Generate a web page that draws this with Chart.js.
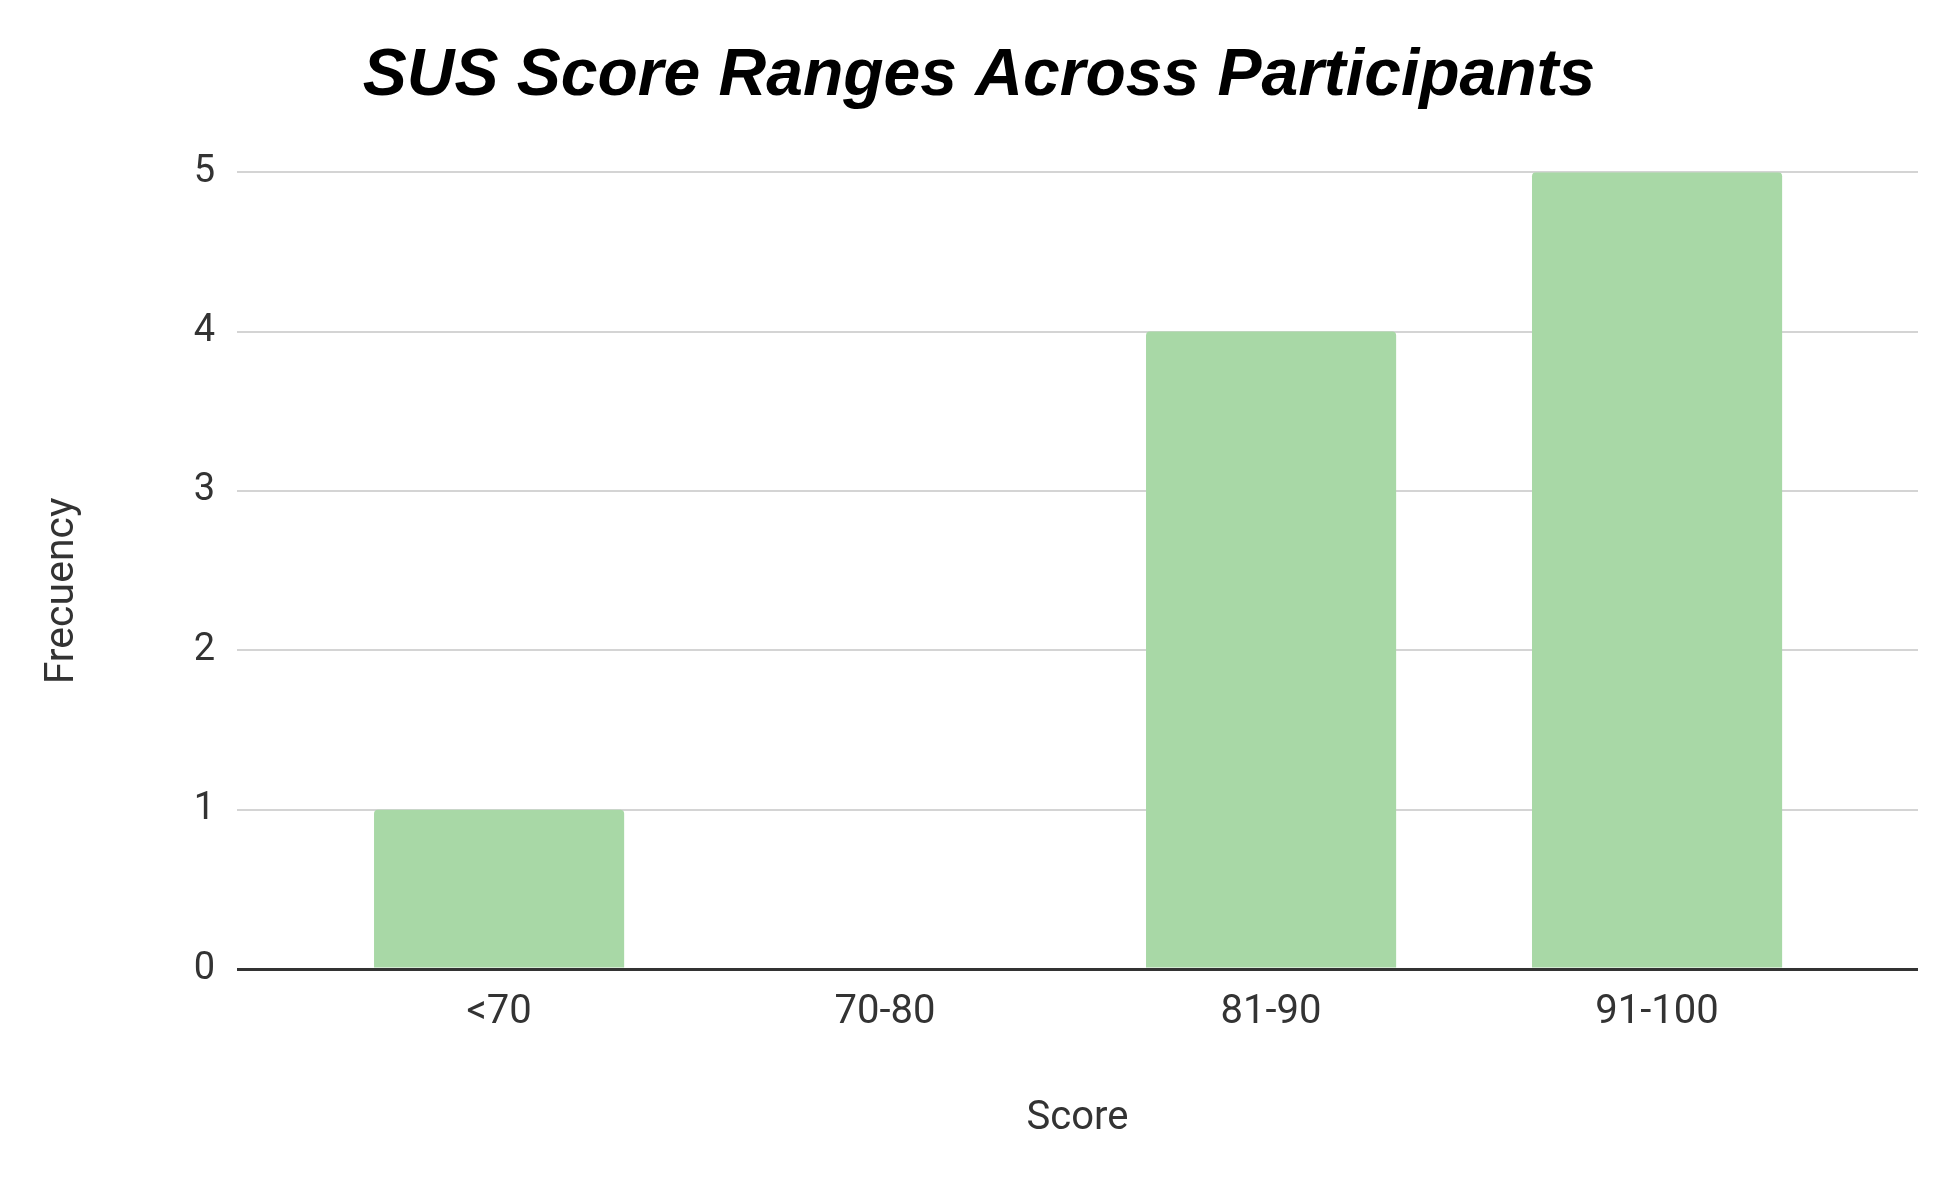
<!DOCTYPE html>
<html>
<head>
<meta charset="utf-8">
<script src="https://cdn.jsdelivr.net/npm/chart.js@4/dist/chart.umd.min.js"></script>
<style>
  html, body { margin: 0; padding: 0; background: #ffffff; }
  #wrap { width: 1958px; height: 1183px; position: relative; }
</style>
</head>
<body>
<div id="wrap"><canvas id="c" width="1958" height="1183"></canvas></div>
<script>
const categories = ["<70", "70-80", "81-90", "91-100"];
const frequencies = [1, 0, 4, 5];
const yMin = 0;
const yMax = 5;
const yStep = 1;
const chartTitle = "SUS Score Ranges Across Participants";
const xTitle = "Score";
const yTitle = "Frecuency    ";

const ctx = document.getElementById("c").getContext("2d");
new Chart(ctx, {
  type: "bar",
  data: {
    labels: categories,
    datasets: [{
      label: "Frecuency",
      data: frequencies,
      backgroundColor: "rgb(168,216,166)",
      borderRadius: { topLeft: 4, topRight: 4, bottomLeft: 0, bottomRight: 0 },
      borderSkipped: "start",
      barPercentage: 0.648,
      categoryPercentage: 1.0,
      yAxisID: "y"
    }]
  },
  options: {
    responsive: false,
    animation: false,
    devicePixelRatio: 1,
    layout: { padding: 0 },
    plugins: {
      legend: { display: false },
      tooltip: { enabled: false },
      title: {
        display: true,
        text: chartTitle,
        color: "#000000",
        font: { family: "'Liberation Sans', Arial, sans-serif", size: 66, weight: "bold", style: "italic" },
        padding: { top: 37, bottom: 56 }
      }
    },
    scales: {
      x: {
        grid: { display: false, drawTicks: false },
        border: { display: false },
        ticks: {
          color: "#333333",
          padding: 20,
          font: { family: "Roboto, sans-serif", size: 40 }
        },
        title: {
          display: true,
          text: xTitle,
          color: "#333333",
          font: { family: "Roboto, sans-serif", size: 40 },
          padding: { top: 0, bottom: 40 }
        },
        afterBuildTicks: (scale) => {
          scale._startValue = -0.679;
          scale._valueRange = 4.355;
        },
        afterFit: (scale) => { scale.height = 214; }
      },
      y: {
        min: yMin,
        max: yMax,
        grid: {
          drawTicks: false,
          color: (c) => (c.tick && c.tick.value === 0) ? "#333333" : "#d4d4d4",
          lineWidth: (c) => (c.tick && c.tick.value === 0) ? 3 : 2
        },
        border: { display: false },
        ticks: {
          stepSize: yStep,
          color: "#333333",
          padding: 22,
          font: { family: "Roboto, sans-serif", size: 38 }
        },
        title: {
          display: true,
          text: yTitle,
          color: "#333333",
          font: { family: "Roboto, sans-serif", size: 41 },
          padding: { top: 38, bottom: 0 }
        },
        afterFit: (scale) => { scale.width = 237; }
      },
      y2: {
        type: "linear",
        position: "right",
        display: true,
        grid: { display: false, drawTicks: false },
        border: { display: false },
        ticks: { display: false },
        afterFit: (scale) => { scale.width = 40; }
      }
    }
  }
});
</script>
</body>
</html>
